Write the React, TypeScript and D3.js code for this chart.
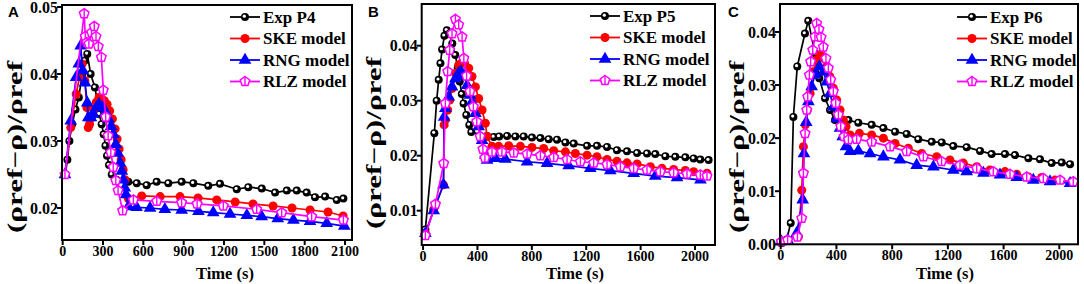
import React from "react";
import * as d3 from "d3";

type P = [number, number];

// ---------- Panel A (P4) ----------
const aExp: P[] = [[20,0.0250],[35,0.0272],[50,0.0300],[70,0.0325],[95,0.0347],[120,0.0365],[145,0.0400],[165,0.0420],[183,0.0430],[208,0.0400],[240,0.0380],[273,0.0340],[290,0.0325],[305,0.0310],[318,0.0293],[330,0.0278],[345,0.0264],[365,0.0250],[400,0.0242],[488,0.0239],[551,0.0237],[625,0.0234],[699,0.0239],[786,0.0237],[885,0.0239],[972,0.0237],[1083,0.0233],[1170,0.0236],[1295,0.0228],[1381,0.0231],[1481,0.0229],[1580,0.0223],[1667,0.0226],[1741,0.0226],[1815,0.0223],[1877,0.0216],[1952,0.0217],[2039,0.0212],[2088,0.0214]];
const aSke: P[] = [[17,0.0250],[60,0.0320],[100,0.0370],[130,0.0400],[145,0.0415],[165,0.0390],[180,0.0350],[190,0.0320],[200,0.0325],[215,0.0335],[230,0.0347],[250,0.0358],[270,0.0365],[290,0.0363],[310,0.0360],[330,0.0355],[350,0.0345],[370,0.0333],[390,0.0318],[405,0.0303],[420,0.0288],[435,0.0272],[450,0.0257],[465,0.0242],[488,0.0214],[588,0.0218],[725,0.0217],[873,0.0217],[1007,0.0215],[1146,0.0212],[1283,0.0209],[1416,0.0206],[1565,0.0203],[1706,0.0200],[1840,0.0197],[1974,0.0194],[2086,0.0188]];
const aRng: P[] = [[17,0.0250],[60,0.0330],[100,0.0395],[120,0.0415],[134,0.0442],[150,0.0405],[166,0.0387],[183,0.0357],[191,0.0335],[210,0.0335],[228,0.0340],[250,0.0350],[270,0.0355],[300,0.0350],[320,0.0343],[340,0.0333],[360,0.0322],[377,0.0310],[395,0.0295],[410,0.0282],[427,0.0267],[440,0.0255],[451,0.0242],[462,0.0230],[471,0.0220],[489,0.0202],[550,0.0201],[650,0.0200],[760,0.0198],[885,0.0197],[1010,0.0195],[1120,0.0193],[1245,0.0191],[1370,0.0189],[1480,0.0187],[1600,0.0184],[1716,0.0182],[1840,0.0180],[1964,0.0177],[2095,0.0173]];
const aRlz: P[] = [[17,0.0250],[160,0.0490],[168,0.0456],[180,0.0447],[195,0.0445],[215,0.0462],[235,0.0471],[248,0.0456],[265,0.0441],[288,0.0425],[302,0.0376],[320,0.0336],[338,0.0308],[358,0.0283],[376,0.0261],[395,0.0241],[412,0.0226],[446,0.0196],[526,0.0212],[700,0.0210],[885,0.0208],[1000,0.0206],[1195,0.0203],[1443,0.0198],[1629,0.0193],[1852,0.0187],[2088,0.0182]];

// ---------- Panel B (P5) ----------
const bExp: P[] = [[17,0.0066],[83,0.0241],[100,0.0300],[115,0.0338],[128,0.0368],[140,0.0393],[157,0.0418],[175,0.0428],[195,0.0422],[215,0.0404],[237,0.0383],[255,0.0360],[270,0.0335],[285,0.0312],[298,0.0295],[318,0.0274],[340,0.0256],[355,0.0243],[470,0.0236],[520,0.0234],[560,0.0235],[618,0.0236],[679,0.0235],[740,0.0235],[801,0.0233],[863,0.0232],[924,0.0230],[985,0.0229],[1047,0.0224],[1108,0.0222],[1206,0.0218],[1279,0.0218],[1353,0.0216],[1426,0.0210],[1500,0.0208],[1574,0.0205],[1647,0.0204],[1708,0.0203],[1782,0.0199],[1855,0.0198],[1929,0.0197],[1990,0.0195],[2039,0.0193],[2100,0.0192]];
const bSke: P[] = [[17,0.0059],[78,0.0102],[150,0.0147],[155,0.0256],[164,0.0265],[181,0.0283],[196,0.0301],[213,0.0322],[238,0.0350],[262,0.0365],[285,0.0369],[305,0.0368],[336,0.0359],[360,0.0344],[385,0.0325],[409,0.0304],[434,0.0283],[458,0.0259],[471,0.0235],[507,0.0217],[556,0.0217],[630,0.0218],[716,0.0217],[801,0.0215],[887,0.0213],[961,0.0209],[1047,0.0207],[1120,0.0204],[1206,0.0201],[1279,0.0198],[1353,0.0193],[1426,0.0190],[1500,0.0187],[1574,0.0185],[1672,0.0180],[1757,0.0177],[1843,0.0175],[1929,0.0173],[1990,0.0171],[2088,0.0168]];
const bRng: P[] = [[17,0.0059],[78,0.0100],[150,0.0147],[155,0.0270],[164,0.0286],[189,0.0307],[213,0.0325],[238,0.0340],[262,0.0350],[280,0.0353],[300,0.0345],[324,0.0328],[345,0.0310],[360,0.0298],[385,0.0277],[409,0.0253],[434,0.0228],[458,0.0201],[471,0.0192],[532,0.0195],[605,0.0194],[765,0.0189],[912,0.0186],[1071,0.0182],[1230,0.0177],[1377,0.0173],[1549,0.0168],[1708,0.0163],[1868,0.0160],[2040,0.0156]];
const bRlz: P[] = [[17,0.0055],[91,0.0112],[152,0.0186],[164,0.0295],[181,0.0353],[196,0.0392],[213,0.0422],[238,0.0448],[262,0.0438],[287,0.0416],[300,0.0377],[320,0.0345],[345,0.0317],[370,0.0289],[395,0.0262],[420,0.0235],[440,0.0212],[455,0.0196],[507,0.0207],[580,0.0207],[667,0.0205],[765,0.0203],[863,0.0200],[961,0.0197],[1059,0.0193],[1157,0.0189],[1255,0.0187],[1353,0.0184],[1451,0.0180],[1549,0.0177],[1647,0.0174],[1745,0.0171],[1843,0.0169],[1941,0.0167],[2039,0.0165],[2088,0.0163]];

// ---------- Panel C (P6) ----------
const cExp: P[] = [[5,0.0002],[43,0.0009],[72,0.0040],[91,0.0240],[119,0.0335],[174,0.0397],[198,0.0421],[246,0.0360],[277,0.0313],[318,0.0275],[354,0.0253],[390,0.0234],[486,0.0234],[557,0.0229],[653,0.0225],[737,0.0219],[821,0.0212],[904,0.0208],[988,0.0198],[1084,0.0193],[1156,0.0192],[1239,0.0185],[1335,0.0183],[1431,0.0176],[1514,0.0170],[1610,0.0170],[1682,0.0168],[1778,0.0162],[1861,0.0160],[1945,0.0153],[2017,0.0154],[2077,0.0151]];
const cSke: P[] = [[5,0.0005],[50,0.0008],[127,0.0014],[151,0.0102],[163,0.0184],[177,0.0225],[191,0.0253],[211,0.0284],[234,0.0325],[258,0.0347],[282,0.0357],[311,0.0350],[330,0.0335],[354,0.0316],[378,0.0294],[402,0.0272],[426,0.0253],[450,0.0234],[469,0.0222],[498,0.0206],[565,0.0209],[653,0.0206],[737,0.0200],[821,0.0190],[916,0.0181],[1012,0.0171],[1120,0.0165],[1215,0.0159],[1311,0.0153],[1407,0.0146],[1502,0.0140],[1610,0.0137],[1694,0.0132],[1778,0.0127],[1873,0.0126],[1969,0.0121],[2090,0.0118]];
const cRng: P[] = [[5,0.0005],[50,0.0008],[115,0.0021],[158,0.0084],[167,0.0171],[183,0.0230],[199,0.0269],[222,0.0297],[246,0.0319],[278,0.0335],[306,0.0325],[330,0.0306],[354,0.0284],[378,0.0259],[402,0.0237],[426,0.0219],[445,0.0203],[469,0.0184],[498,0.0175],[557,0.0176],[641,0.0171],[737,0.0165],[856,0.0159],[976,0.0149],[1096,0.0146],[1239,0.0140],[1335,0.0137],[1455,0.0134],[1574,0.0131],[1694,0.0126],[1813,0.0121],[1933,0.0118],[2077,0.0115]];
const cRlz: P[] = [[5,0.0005],[50,0.0008],[120,0.0014],[151,0.0049],[163,0.0134],[175,0.0209],[187,0.0253],[194,0.0278],[206,0.0319],[215,0.0344],[230,0.0366],[246,0.0391],[258,0.0416],[275,0.0405],[290,0.0390],[306,0.0372],[325,0.0350],[342,0.0332],[359,0.0310],[378,0.0288],[395,0.0266],[414,0.0244],[431,0.0222],[455,0.0203],[486,0.0197],[545,0.0198],[653,0.0193],[785,0.0184],[904,0.0175],[1024,0.0165],[1155,0.0156],[1287,0.0149],[1407,0.0143],[1526,0.0137],[1646,0.0132],[1766,0.0127],[1885,0.0124],[2005,0.0121],[2100,0.0118]];

const aXTicks = [0, 300, 600, 900, 1200, 1500, 1800, 2100];
const bXTicks = [0, 400, 800, 1200, 1600, 2000];
const cXTicks = [0, 400, 800, 1200, 1600, 2000];
const aYTicks = [0.02, 0.03, 0.04, 0.05];
const bYTicks = [0.01, 0.02, 0.03, 0.04];
const cYTicks = [0.0, 0.01, 0.02, 0.03, 0.04];

const seriesNames = ["SKE model", "RNG model", "RLZ model"];
const panelLetters = ["A", "B", "C"];
const expNames = ["Exp P4", "Exp P5", "Exp P6"];

const COLORS = ["#000000", "#ff0000", "#0000ff", "#ff00ff"];
const SERIF = "'Liberation Serif', 'Times New Roman', serif";
const SANS = "'Liberation Sans', Arial, sans-serif";

const panels = [
  { letter: panelLetters[0], exp: expNames[0], data: [aExp, aSke, aRng, aRlz], xd: [-5, 2152], yd: [0.01522, 0.0503], x0: 62, x1: 352, y0: 5, y1: 240, xt: aXTicks, yt: aYTicks, lx: 230, ly: 17, ytx: 15, ytc: 147, xtc: 225, lt: 8 },
  { letter: panelLetters[1], exp: expNames[1], data: [bExp, bSke, bRng, bRlz], xd: [-10, 2147], yd: [0.00376, 0.04758], x0: 421.7, x1: 715, y0: 4, y1: 245, xt: bXTicks, yt: bYTicks, lx: 590, ly: 16, ytx: 374, ytc: 143, xtc: 575, lt: 368 },
  { letter: panelLetters[2], exp: expNames[2], data: [cExp, cSke, cRng, cRlz], xd: [-5, 2134], yd: [0, 0.04527], x0: 780, x1: 1078, y0: 4, y1: 244.3, xt: cXTicks, yt: cYTicks, lx: 957, ly: 17, ytx: 737, ytc: 147, xtc: 945, lt: 728 },
];

function pentagon(r: number) {
  const pts: string[] = [];
  for (let i = 0; i < 5; i++) {
    const a = -Math.PI / 2 + (i * 2 * Math.PI) / 5;
    pts.push(`${(r * Math.cos(a)).toFixed(2)},${(r * Math.sin(a)).toFixed(2)}`);
  }
  return pts.join(" ");
}
const PENT = pentagon(5);
const TRI = d3.symbol().type(d3.symbolTriangle).size(70)() as string;

function Marker({ kind, x, y }: { kind: number; x: number; y: number }) {
  const t = `translate(${x},${y})`;
  if (kind === 0)
    return (
      <g transform={t}>
        <circle r={4} fill="#000" />
        <circle cx={-0.7} cy={-0.8} r={1.6} fill="#fff" />
      </g>
    );
  if (kind === 1) return <circle transform={t} r={4.5} fill={COLORS[1]} />;
  if (kind === 2) return <path transform={t} d={TRI} fill={COLORS[2]} />;
  return (
    <g transform={t}>
      <polygon points={PENT} fill="#fff" stroke={COLORS[3]} strokeWidth={1.5} />
      <line x1={0} y1={-4.8} x2={0} y2={4} stroke={COLORS[3]} strokeWidth={1.4} />
    </g>
  );
}

function Panel({ p }: { p: (typeof panels)[number] }) {
  const x = d3.scaleLinear().domain(p.xd).range([p.x0, p.x1]);
  const y = d3.scaleLinear().domain(p.yd).range([p.y1, p.y0]);
  const line = d3.line<P>().x((d) => x(d[0])).y((d) => y(d[1]));
  const names = [p.exp, ...seriesNames];
  return (
    <g>
      {p.data.map((s, i) => (
        <g key={i}>
          <path d={line(s) || ""} fill="none" stroke={COLORS[i]} strokeWidth={1.7} />
          {s.map((d, j) => (
            <Marker key={j} kind={i} x={x(d[0])} y={y(d[1])} />
          ))}
        </g>
      ))}
      <rect x={p.x0} y={p.y0} width={p.x1 - p.x0} height={p.y1 - p.y0} fill="none" stroke="#000" strokeWidth={2} />
      {p.xt.map((t) => (
        <g key={t}>
          <line x1={x(t)} x2={x(t)} y1={p.y1} y2={p.y1 + 5} stroke="#000" strokeWidth={2} />
          <text x={x(t)} y={p.y1 + 16} textAnchor="middle" fontFamily={SERIF} fontWeight="bold" fontSize={14}>{t}</text>
        </g>
      ))}
      {p.yt.map((t) => (
        <g key={t}>
          <line x1={p.x0 - 5} x2={p.x0} y1={y(t)} y2={y(t)} stroke="#000" strokeWidth={2} />
          <text x={p.x0 - 4} y={y(t)} dy="0.35em" textAnchor="end" fontFamily={SERIF} fontWeight="bold" fontSize={16}>{t.toFixed(2)}</text>
        </g>
      ))}
      <text x={p.xtc} y={279} textAnchor="middle" fontFamily={SERIF} fontWeight="bold" fontSize={16.5}>Time (s)</text>
      <text transform={`translate(${p.ytx + 7},${p.ytc}) rotate(-90)`} textAnchor="middle" fontFamily={SERIF} fontWeight="bold" fontSize={21} textLength={172} lengthAdjust="spacingAndGlyphs">(ρref−ρ)/ρref</text>
      <text x={p.lt} y={17} fontFamily={SANS} fontWeight="bold" fontSize={15}>{p.letter}</text>
      {names.map((n, i) => {
        const cy = p.ly + i * 21.5;
        return (
          <g key={n}>
            <line x1={p.lx} x2={p.lx + 30} y1={cy} y2={cy} stroke={COLORS[i]} strokeWidth={1.8} />
            <Marker kind={i} x={p.lx + 15} y={cy} />
            <text x={p.lx + 33} y={cy} dy="0.35em" fontFamily={SERIF} fontWeight="bold" fontSize={17}>{n}</text>
          </g>
        );
      })}
    </g>
  );
}

export default function App() {
  React.useEffect(() => {
    document.body.style.margin = "0";
  }, []);
  return (
    <svg width={1084} height={284} style={{ position: "absolute", left: 0, top: 0, background: "#fff" }}>
      <rect width={1084} height={284} fill="#fff" />
      {panels.map((p) => (
        <Panel key={p.letter} p={p} />
      ))}
    </svg>
  );
}
